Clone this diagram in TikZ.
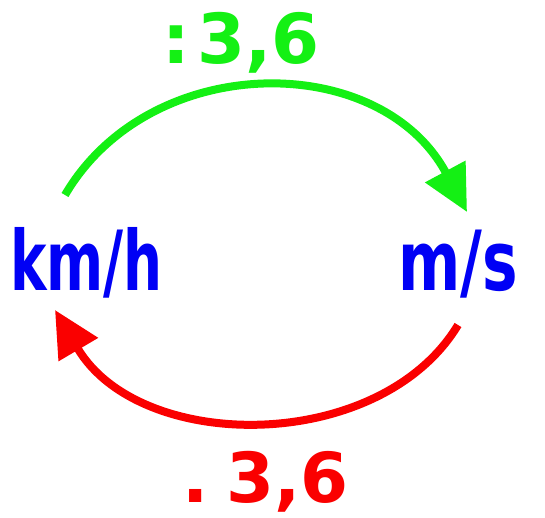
\documentclass[tikz,border=0pt]{standalone}
\usepackage{fontspec}
\setmainfont{DejaVu Sans}
\usetikzlibrary{arrows.meta}
\definecolor{ublue}{RGB}{0,0,245}
\definecolor{ugreen}{RGB}{20,240,20}
\definecolor{ured}{RGB}{250,0,0}
\tikzset{
  unit/.style={inner sep=0pt, anchor=base west, text=ublue, font=\fontsize{83}{90}\selectfont\bfseries, xscale=0.66},
  factor/.style={inner sep=0pt, anchor=base west, font=\fontsize{69}{80}\selectfont\bfseries},
  conv/.style={line width=8pt, -{Triangle[length=46pt,width=44pt]}},
}
\begin{document}
\begin{tikzpicture}[x=1pt,y=-1pt]
\useasboundingbox (0,0) rectangle (545,518);
\node[unit] (kmh) at (10,290) {km/h};
\node[unit, xscale=1.09] (ms) at (398,290) {m/s};
\node[factor, text=ugreen] (div) at (162,64) {:\hspace{8pt}3,6};
\node[factor, text=ured] (mul) at (182,502) {.\hspace{18pt}3,6};
\coordinate (gs) at (65,195);
\coordinate (ge) at (467,212);
\coordinate (rs) at (458,325);
\coordinate (re) at (55,310);
\draw[conv, ugreen] (gs) .. controls (150,50) and (380,50) .. (ge);
\draw[conv, ured] (rs) .. controls (380,454) and (140,454) .. (re);
\end{tikzpicture}
\end{document}
